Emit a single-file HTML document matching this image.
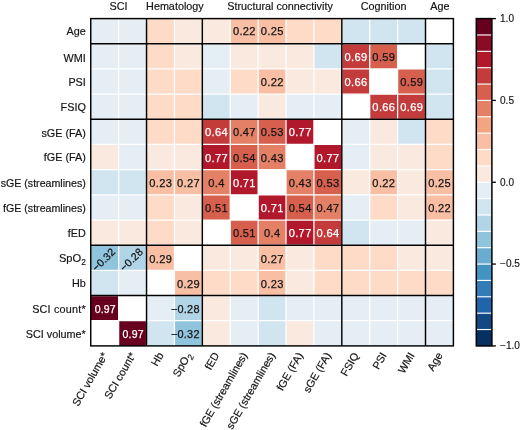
<!DOCTYPE html>
<html lang="en"><head><meta charset="utf-8"><title>Correlation heatmap</title>
<style>html,body{margin:0;padding:0;background:#fff;}body{width:520px;height:430px;overflow:hidden;}svg{display:block;will-change:transform;}</style>
</head><body>
<svg width="520" height="430" viewBox="0 0 520 430" font-family='"Liberation Sans", sans-serif' font-size="10.8" fill="#141414">
<rect x="0" y="0" width="520" height="430" fill="#ffffff"/>
<g>
<rect x="90.75" y="18.60" width="27.90" height="25.18" fill="#e4eef4"/>
<rect x="118.65" y="18.60" width="27.90" height="25.18" fill="#e4eef4"/>
<rect x="146.54" y="18.60" width="27.90" height="25.18" fill="#fddbc7"/>
<rect x="174.44" y="18.60" width="27.90" height="25.18" fill="#fae9df"/>
<rect x="202.33" y="18.60" width="27.90" height="25.18" fill="#fae9df"/>
<rect x="230.23" y="18.60" width="27.90" height="25.18" fill="#f8bfa4"/>
<rect x="258.13" y="18.60" width="27.90" height="25.18" fill="#f8bfa4"/>
<rect x="286.02" y="18.60" width="27.90" height="25.18" fill="#fddbc7"/>
<rect x="313.92" y="18.60" width="27.90" height="25.18" fill="#fddbc7"/>
<rect x="341.82" y="18.60" width="27.90" height="25.18" fill="#d1e5f0"/>
<rect x="369.71" y="18.60" width="27.90" height="25.18" fill="#d1e5f0"/>
<rect x="397.61" y="18.60" width="27.90" height="25.18" fill="#d1e5f0"/>
<rect x="90.75" y="43.78" width="27.90" height="25.18" fill="#e4eef4"/>
<rect x="118.65" y="43.78" width="27.90" height="25.18" fill="#e4eef4"/>
<rect x="146.54" y="43.78" width="27.90" height="25.18" fill="#fddbc7"/>
<rect x="174.44" y="43.78" width="27.90" height="25.18" fill="#fae9df"/>
<rect x="202.33" y="43.78" width="27.90" height="25.18" fill="#e4eef4"/>
<rect x="230.23" y="43.78" width="27.90" height="25.18" fill="#fae9df"/>
<rect x="258.13" y="43.78" width="27.90" height="25.18" fill="#fae9df"/>
<rect x="286.02" y="43.78" width="27.90" height="25.18" fill="#fae9df"/>
<rect x="313.92" y="43.78" width="27.90" height="25.18" fill="#d1e5f0"/>
<rect x="341.82" y="43.78" width="27.90" height="25.18" fill="#c43b3c"/>
<rect x="369.71" y="43.78" width="27.90" height="25.18" fill="#d6604d"/>
<rect x="425.50" y="43.78" width="27.90" height="25.18" fill="#d1e5f0"/>
<rect x="90.75" y="68.95" width="27.90" height="25.18" fill="#e4eef4"/>
<rect x="118.65" y="68.95" width="27.90" height="25.18" fill="#e4eef4"/>
<rect x="146.54" y="68.95" width="27.90" height="25.18" fill="#fddbc7"/>
<rect x="174.44" y="68.95" width="27.90" height="25.18" fill="#fddbc7"/>
<rect x="202.33" y="68.95" width="27.90" height="25.18" fill="#e4eef4"/>
<rect x="230.23" y="68.95" width="27.90" height="25.18" fill="#fddbc7"/>
<rect x="258.13" y="68.95" width="27.90" height="25.18" fill="#f8bfa4"/>
<rect x="286.02" y="68.95" width="27.90" height="25.18" fill="#fae9df"/>
<rect x="313.92" y="68.95" width="27.90" height="25.18" fill="#fae9df"/>
<rect x="341.82" y="68.95" width="27.90" height="25.18" fill="#c43b3c"/>
<rect x="397.61" y="68.95" width="27.90" height="25.18" fill="#d6604d"/>
<rect x="425.50" y="68.95" width="27.90" height="25.18" fill="#d1e5f0"/>
<rect x="90.75" y="94.13" width="27.90" height="25.18" fill="#e4eef4"/>
<rect x="118.65" y="94.13" width="27.90" height="25.18" fill="#e4eef4"/>
<rect x="146.54" y="94.13" width="27.90" height="25.18" fill="#fddbc7"/>
<rect x="174.44" y="94.13" width="27.90" height="25.18" fill="#fddbc7"/>
<rect x="202.33" y="94.13" width="27.90" height="25.18" fill="#d1e5f0"/>
<rect x="230.23" y="94.13" width="27.90" height="25.18" fill="#e4eef4"/>
<rect x="258.13" y="94.13" width="27.90" height="25.18" fill="#fae9df"/>
<rect x="286.02" y="94.13" width="27.90" height="25.18" fill="#e4eef4"/>
<rect x="313.92" y="94.13" width="27.90" height="25.18" fill="#e4eef4"/>
<rect x="369.71" y="94.13" width="27.90" height="25.18" fill="#c43b3c"/>
<rect x="397.61" y="94.13" width="27.90" height="25.18" fill="#c43b3c"/>
<rect x="425.50" y="94.13" width="27.90" height="25.18" fill="#d1e5f0"/>
<rect x="90.75" y="119.31" width="27.90" height="25.18" fill="#e4eef4"/>
<rect x="118.65" y="119.31" width="27.90" height="25.18" fill="#e4eef4"/>
<rect x="146.54" y="119.31" width="27.90" height="25.18" fill="#fddbc7"/>
<rect x="174.44" y="119.31" width="27.90" height="25.18" fill="#fddbc7"/>
<rect x="202.33" y="119.31" width="27.90" height="25.18" fill="#c43b3c"/>
<rect x="230.23" y="119.31" width="27.90" height="25.18" fill="#e48066"/>
<rect x="258.13" y="119.31" width="27.90" height="25.18" fill="#d6604d"/>
<rect x="286.02" y="119.31" width="27.90" height="25.18" fill="#b1182b"/>
<rect x="341.82" y="119.31" width="27.90" height="25.18" fill="#e4eef4"/>
<rect x="369.71" y="119.31" width="27.90" height="25.18" fill="#fae9df"/>
<rect x="397.61" y="119.31" width="27.90" height="25.18" fill="#d1e5f0"/>
<rect x="425.50" y="119.31" width="27.90" height="25.18" fill="#fddbc7"/>
<rect x="90.75" y="144.48" width="27.90" height="25.18" fill="#fae9df"/>
<rect x="118.65" y="144.48" width="27.90" height="25.18" fill="#e4eef4"/>
<rect x="146.54" y="144.48" width="27.90" height="25.18" fill="#fae9df"/>
<rect x="174.44" y="144.48" width="27.90" height="25.18" fill="#fae9df"/>
<rect x="202.33" y="144.48" width="27.90" height="25.18" fill="#b1182b"/>
<rect x="230.23" y="144.48" width="27.90" height="25.18" fill="#d6604d"/>
<rect x="258.13" y="144.48" width="27.90" height="25.18" fill="#e48066"/>
<rect x="313.92" y="144.48" width="27.90" height="25.18" fill="#b1182b"/>
<rect x="341.82" y="144.48" width="27.90" height="25.18" fill="#e4eef4"/>
<rect x="369.71" y="144.48" width="27.90" height="25.18" fill="#fae9df"/>
<rect x="397.61" y="144.48" width="27.90" height="25.18" fill="#fae9df"/>
<rect x="425.50" y="144.48" width="27.90" height="25.18" fill="#fddbc7"/>
<rect x="90.75" y="169.66" width="27.90" height="25.18" fill="#d1e5f0"/>
<rect x="118.65" y="169.66" width="27.90" height="25.18" fill="#d1e5f0"/>
<rect x="146.54" y="169.66" width="27.90" height="25.18" fill="#f8bfa4"/>
<rect x="174.44" y="169.66" width="27.90" height="25.18" fill="#f8bfa4"/>
<rect x="202.33" y="169.66" width="27.90" height="25.18" fill="#e48066"/>
<rect x="230.23" y="169.66" width="27.90" height="25.18" fill="#b1182b"/>
<rect x="286.02" y="169.66" width="27.90" height="25.18" fill="#e48066"/>
<rect x="313.92" y="169.66" width="27.90" height="25.18" fill="#d6604d"/>
<rect x="341.82" y="169.66" width="27.90" height="25.18" fill="#fae9df"/>
<rect x="369.71" y="169.66" width="27.90" height="25.18" fill="#f8bfa4"/>
<rect x="397.61" y="169.66" width="27.90" height="25.18" fill="#fae9df"/>
<rect x="425.50" y="169.66" width="27.90" height="25.18" fill="#f8bfa4"/>
<rect x="90.75" y="194.84" width="27.90" height="25.18" fill="#e4eef4"/>
<rect x="118.65" y="194.84" width="27.90" height="25.18" fill="#e4eef4"/>
<rect x="146.54" y="194.84" width="27.90" height="25.18" fill="#fddbc7"/>
<rect x="174.44" y="194.84" width="27.90" height="25.18" fill="#fae9df"/>
<rect x="202.33" y="194.84" width="27.90" height="25.18" fill="#d6604d"/>
<rect x="258.13" y="194.84" width="27.90" height="25.18" fill="#b1182b"/>
<rect x="286.02" y="194.84" width="27.90" height="25.18" fill="#d6604d"/>
<rect x="313.92" y="194.84" width="27.90" height="25.18" fill="#e48066"/>
<rect x="341.82" y="194.84" width="27.90" height="25.18" fill="#e4eef4"/>
<rect x="369.71" y="194.84" width="27.90" height="25.18" fill="#fddbc7"/>
<rect x="397.61" y="194.84" width="27.90" height="25.18" fill="#fae9df"/>
<rect x="425.50" y="194.84" width="27.90" height="25.18" fill="#f8bfa4"/>
<rect x="90.75" y="220.02" width="27.90" height="25.18" fill="#fae9df"/>
<rect x="118.65" y="220.02" width="27.90" height="25.18" fill="#fae9df"/>
<rect x="146.54" y="220.02" width="27.90" height="25.18" fill="#fddbc7"/>
<rect x="174.44" y="220.02" width="27.90" height="25.18" fill="#fae9df"/>
<rect x="230.23" y="220.02" width="27.90" height="25.18" fill="#d6604d"/>
<rect x="258.13" y="220.02" width="27.90" height="25.18" fill="#e48066"/>
<rect x="286.02" y="220.02" width="27.90" height="25.18" fill="#b1182b"/>
<rect x="313.92" y="220.02" width="27.90" height="25.18" fill="#c43b3c"/>
<rect x="341.82" y="220.02" width="27.90" height="25.18" fill="#d1e5f0"/>
<rect x="369.71" y="220.02" width="27.90" height="25.18" fill="#e4eef4"/>
<rect x="397.61" y="220.02" width="27.90" height="25.18" fill="#e4eef4"/>
<rect x="425.50" y="220.02" width="27.90" height="25.18" fill="#fae9df"/>
<rect x="90.75" y="245.19" width="27.90" height="25.18" fill="#90c4dd"/>
<rect x="118.65" y="245.19" width="27.90" height="25.18" fill="#b1d5e7"/>
<rect x="146.54" y="245.19" width="27.90" height="25.18" fill="#f8bfa4"/>
<rect x="202.33" y="245.19" width="27.90" height="25.18" fill="#fae9df"/>
<rect x="230.23" y="245.19" width="27.90" height="25.18" fill="#fae9df"/>
<rect x="258.13" y="245.19" width="27.90" height="25.18" fill="#f8bfa4"/>
<rect x="286.02" y="245.19" width="27.90" height="25.18" fill="#fae9df"/>
<rect x="313.92" y="245.19" width="27.90" height="25.18" fill="#fddbc7"/>
<rect x="341.82" y="245.19" width="27.90" height="25.18" fill="#fddbc7"/>
<rect x="369.71" y="245.19" width="27.90" height="25.18" fill="#fddbc7"/>
<rect x="397.61" y="245.19" width="27.90" height="25.18" fill="#fae9df"/>
<rect x="425.50" y="245.19" width="27.90" height="25.18" fill="#fae9df"/>
<rect x="90.75" y="270.37" width="27.90" height="25.18" fill="#d1e5f0"/>
<rect x="118.65" y="270.37" width="27.90" height="25.18" fill="#e4eef4"/>
<rect x="174.44" y="270.37" width="27.90" height="25.18" fill="#f8bfa4"/>
<rect x="202.33" y="270.37" width="27.90" height="25.18" fill="#fddbc7"/>
<rect x="230.23" y="270.37" width="27.90" height="25.18" fill="#fddbc7"/>
<rect x="258.13" y="270.37" width="27.90" height="25.18" fill="#f8bfa4"/>
<rect x="286.02" y="270.37" width="27.90" height="25.18" fill="#fae9df"/>
<rect x="313.92" y="270.37" width="27.90" height="25.18" fill="#fddbc7"/>
<rect x="341.82" y="270.37" width="27.90" height="25.18" fill="#fddbc7"/>
<rect x="369.71" y="270.37" width="27.90" height="25.18" fill="#fddbc7"/>
<rect x="397.61" y="270.37" width="27.90" height="25.18" fill="#fddbc7"/>
<rect x="425.50" y="270.37" width="27.90" height="25.18" fill="#fddbc7"/>
<rect x="90.75" y="295.55" width="27.90" height="25.18" fill="#67001f"/>
<rect x="146.54" y="295.55" width="27.90" height="25.18" fill="#e4eef4"/>
<rect x="174.44" y="295.55" width="27.90" height="25.18" fill="#b1d5e7"/>
<rect x="202.33" y="295.55" width="27.90" height="25.18" fill="#fae9df"/>
<rect x="230.23" y="295.55" width="27.90" height="25.18" fill="#e4eef4"/>
<rect x="258.13" y="295.55" width="27.90" height="25.18" fill="#d1e5f0"/>
<rect x="286.02" y="295.55" width="27.90" height="25.18" fill="#e4eef4"/>
<rect x="313.92" y="295.55" width="27.90" height="25.18" fill="#e4eef4"/>
<rect x="341.82" y="295.55" width="27.90" height="25.18" fill="#e4eef4"/>
<rect x="369.71" y="295.55" width="27.90" height="25.18" fill="#e4eef4"/>
<rect x="397.61" y="295.55" width="27.90" height="25.18" fill="#e4eef4"/>
<rect x="425.50" y="295.55" width="27.90" height="25.18" fill="#e4eef4"/>
<rect x="118.65" y="320.72" width="27.90" height="25.18" fill="#67001f"/>
<rect x="146.54" y="320.72" width="27.90" height="25.18" fill="#d1e5f0"/>
<rect x="174.44" y="320.72" width="27.90" height="25.18" fill="#90c4dd"/>
<rect x="202.33" y="320.72" width="27.90" height="25.18" fill="#fae9df"/>
<rect x="230.23" y="320.72" width="27.90" height="25.18" fill="#e4eef4"/>
<rect x="258.13" y="320.72" width="27.90" height="25.18" fill="#d1e5f0"/>
<rect x="286.02" y="320.72" width="27.90" height="25.18" fill="#fae9df"/>
<rect x="313.92" y="320.72" width="27.90" height="25.18" fill="#e4eef4"/>
<rect x="341.82" y="320.72" width="27.90" height="25.18" fill="#e4eef4"/>
<rect x="369.71" y="320.72" width="27.90" height="25.18" fill="#e4eef4"/>
<rect x="397.61" y="320.72" width="27.90" height="25.18" fill="#e4eef4"/>
<rect x="425.50" y="320.72" width="27.90" height="25.18" fill="#e4eef4"/>
</g>
<g stroke="#ffffff" stroke-width="1.25">
<line x1="118.65" y1="18.6" x2="118.65" y2="345.9"/>
<line x1="90.75" y1="43.78" x2="453.4" y2="43.78"/>
<line x1="146.54" y1="18.6" x2="146.54" y2="345.9"/>
<line x1="90.75" y1="68.95" x2="453.4" y2="68.95"/>
<line x1="174.44" y1="18.6" x2="174.44" y2="345.9"/>
<line x1="90.75" y1="94.13" x2="453.4" y2="94.13"/>
<line x1="202.33" y1="18.6" x2="202.33" y2="345.9"/>
<line x1="90.75" y1="119.31" x2="453.4" y2="119.31"/>
<line x1="230.23" y1="18.6" x2="230.23" y2="345.9"/>
<line x1="90.75" y1="144.48" x2="453.4" y2="144.48"/>
<line x1="258.13" y1="18.6" x2="258.13" y2="345.9"/>
<line x1="90.75" y1="169.66" x2="453.4" y2="169.66"/>
<line x1="286.02" y1="18.6" x2="286.02" y2="345.9"/>
<line x1="90.75" y1="194.84" x2="453.4" y2="194.84"/>
<line x1="313.92" y1="18.6" x2="313.92" y2="345.9"/>
<line x1="90.75" y1="220.02" x2="453.4" y2="220.02"/>
<line x1="341.82" y1="18.6" x2="341.82" y2="345.9"/>
<line x1="90.75" y1="245.19" x2="453.4" y2="245.19"/>
<line x1="369.71" y1="18.6" x2="369.71" y2="345.9"/>
<line x1="90.75" y1="270.37" x2="453.4" y2="270.37"/>
<line x1="397.61" y1="18.6" x2="397.61" y2="345.9"/>
<line x1="90.75" y1="295.55" x2="453.4" y2="295.55"/>
<line x1="425.50" y1="18.6" x2="425.50" y2="345.9"/>
<line x1="90.75" y1="320.72" x2="453.4" y2="320.72"/>
</g>
<g text-anchor="middle" letter-spacing="0.35" font-size="11.1" stroke-width="0.25">
<text x="244.38" y="35.29" fill="#141414" stroke="#141414">0.22</text>
<text x="272.27" y="35.29" fill="#141414" stroke="#141414">0.25</text>
<text x="355.96" y="60.55" fill="#ffffff" stroke="#ffffff">0.69</text>
<text x="383.86" y="60.55" fill="#141414" stroke="#141414">0.59</text>
<text x="272.27" y="85.80" fill="#141414" stroke="#141414">0.22</text>
<text x="355.96" y="85.80" fill="#ffffff" stroke="#ffffff">0.66</text>
<text x="411.76" y="85.80" fill="#141414" stroke="#141414">0.59</text>
<text x="383.86" y="111.06" fill="#ffffff" stroke="#ffffff">0.66</text>
<text x="411.76" y="111.06" fill="#ffffff" stroke="#ffffff">0.69</text>
<text x="216.48" y="136.32" fill="#ffffff" stroke="#ffffff">0.64</text>
<text x="244.38" y="136.32" fill="#141414" stroke="#141414">0.47</text>
<text x="272.27" y="136.32" fill="#141414" stroke="#141414">0.53</text>
<text x="300.17" y="136.32" fill="#ffffff" stroke="#ffffff">0.77</text>
<text x="216.48" y="161.57" fill="#ffffff" stroke="#ffffff">0.77</text>
<text x="244.38" y="161.57" fill="#141414" stroke="#141414">0.54</text>
<text x="272.27" y="161.57" fill="#141414" stroke="#141414">0.43</text>
<text x="328.07" y="161.57" fill="#ffffff" stroke="#ffffff">0.77</text>
<text x="160.69" y="186.83" fill="#141414" stroke="#141414">0.23</text>
<text x="188.59" y="186.83" fill="#141414" stroke="#141414">0.27</text>
<text x="216.48" y="186.83" fill="#141414" stroke="#141414">0.4</text>
<text x="244.38" y="186.83" fill="#ffffff" stroke="#ffffff">0.71</text>
<text x="300.17" y="186.83" fill="#141414" stroke="#141414">0.43</text>
<text x="328.07" y="186.83" fill="#141414" stroke="#141414">0.53</text>
<text x="383.86" y="186.83" fill="#141414" stroke="#141414">0.22</text>
<text x="439.65" y="186.83" fill="#141414" stroke="#141414">0.25</text>
<text x="216.48" y="212.09" fill="#141414" stroke="#141414">0.51</text>
<text x="272.27" y="212.09" fill="#ffffff" stroke="#ffffff">0.71</text>
<text x="300.17" y="212.09" fill="#141414" stroke="#141414">0.54</text>
<text x="328.07" y="212.09" fill="#141414" stroke="#141414">0.47</text>
<text x="439.65" y="212.09" fill="#141414" stroke="#141414">0.22</text>
<text x="244.38" y="237.34" fill="#141414" stroke="#141414">0.51</text>
<text x="272.27" y="237.34" fill="#141414" stroke="#141414">0.4</text>
<text x="300.17" y="237.34" fill="#ffffff" stroke="#ffffff">0.77</text>
<text x="328.07" y="237.34" fill="#ffffff" stroke="#ffffff">0.64</text>
<text x="104.40" y="263.20" font-size="10.6" letter-spacing="0.15" fill="#141414" stroke="#141414" transform="translate(-1.6 0.3) rotate(-45 104.70 258.50)">−0.32</text>
<text x="132.29" y="263.20" font-size="10.6" letter-spacing="0.15" fill="#141414" stroke="#141414" transform="translate(-1.6 0.3) rotate(-45 132.59 258.50)">−0.28</text>
<text x="160.69" y="262.60" fill="#141414" stroke="#141414">0.29</text>
<text x="272.27" y="262.60" fill="#141414" stroke="#141414">0.27</text>
<text x="188.59" y="287.86" fill="#141414" stroke="#141414">0.29</text>
<text x="272.27" y="287.86" fill="#141414" stroke="#141414">0.23</text>
<text x="105.30" y="312.51" font-size="10.5" letter-spacing="0.2" fill="#ffffff" stroke="#ffffff">0.97</text>
<text x="199.73" y="313.11" font-size="10.9" letter-spacing="0.25" fill="#141414" stroke="#141414" text-anchor="end">−0.28</text>
<text x="133.19" y="337.77" font-size="10.5" letter-spacing="0.2" fill="#ffffff" stroke="#ffffff">0.97</text>
<text x="199.73" y="338.37" font-size="10.9" letter-spacing="0.25" fill="#141414" stroke="#141414" text-anchor="end">−0.32</text>
</g>
<g stroke="#000000" stroke-width="1.45" fill="none">
<rect x="90.75" y="18.6" width="362.65" height="327.30"/>
<line x1="146.54" y1="18.6" x2="146.54" y2="345.9"/>
<line x1="202.33" y1="18.6" x2="202.33" y2="345.9"/>
<line x1="341.82" y1="18.6" x2="341.82" y2="345.9"/>
<line x1="425.50" y1="18.6" x2="425.50" y2="345.9"/>
<line x1="90.75" y1="43.78" x2="453.4" y2="43.78"/>
<line x1="90.75" y1="119.31" x2="453.4" y2="119.31"/>
<line x1="90.75" y1="245.19" x2="453.4" y2="245.19"/>
<line x1="90.75" y1="295.55" x2="453.4" y2="295.55"/>
</g>
<g text-anchor="end" stroke="#141414" stroke-width="0.18">
<text x="85.8" y="35.19">Age</text>
<text x="85.8" y="61.87">WMI</text>
<text x="85.8" y="85.84">PSI</text>
<text x="85.8" y="110.62">FSIQ</text>
<text x="85.8" y="136.60">sGE (FA)</text>
<text x="85.8" y="161.37">fGE (FA)</text>
<text x="85.8" y="186.55" font-size="10.65">sGE (streamlines)</text>
<text x="85.8" y="211.73" font-size="10.65">fGE (streamlines)</text>
<text x="85.8" y="236.90">fED</text>
<text x="85.8" y="261.88" font-size="11.1">SpO<tspan dy="2.8" font-size="8.3">2</tspan></text>
<text x="85.8" y="287.06">Hb</text>
<text x="85.8" y="313.03" letter-spacing="0.2">SCI count*</text>
<text x="85.8" y="338.21">SCI volume*</text>
</g>
<g text-anchor="middle" stroke="#141414" stroke-width="0.18">
<text x="118.6" y="10.4">SCI</text>
<text x="174.9" y="10.4">Hematology</text>
<text x="280.0" y="10.4">Structural connectivity</text>
<text x="383.6" y="10.4">Cognition</text>
<text x="439.9" y="10.4">Age</text>
</g>
<g text-anchor="end" stroke="#141414" stroke-width="0.18">
<text x="102.10" y="351.60" transform="rotate(-60 102.10 351.60)" dy="7">SCI volume*</text>
<text x="129.99" y="351.60" transform="rotate(-60 129.99 351.60)" dy="7">SCI count*</text>
<text x="157.89" y="351.60" transform="rotate(-60 157.89 351.60)" dy="7">Hb</text>
<text x="185.79" y="351.60" transform="rotate(-60 185.79 351.60)" dy="7">SpO<tspan dy="2.8" font-size="8.3">2</tspan></text>
<text x="213.68" y="351.60" transform="rotate(-60 213.68 351.60)" dy="7">fED</text>
<text x="241.58" y="351.60" transform="rotate(-60 241.58 351.60)" dy="7">fGE (streamlines)</text>
<text x="269.47" y="351.60" transform="rotate(-60 269.47 351.60)" dy="7">sGE (streamlines)</text>
<text x="297.37" y="351.60" transform="rotate(-60 297.37 351.60)" dy="7">fGE (FA)</text>
<text x="325.27" y="351.60" transform="rotate(-60 325.27 351.60)" dy="7">sGE (FA)</text>
<text x="353.16" y="351.60" transform="rotate(-60 353.16 351.60)" dy="7">FSIQ</text>
<text x="381.06" y="351.60" transform="rotate(-60 381.06 351.60)" dy="7">PSI</text>
<text x="408.96" y="351.60" transform="rotate(-60 408.96 351.60)" dy="7">WMI</text>
<text x="436.85" y="351.60" transform="rotate(-60 436.85 351.60)" dy="7">Age</text>
</g>
<g>
<rect x="476.3" y="329.53" width="15.60" height="16.66" fill="#053061"/>
<rect x="476.3" y="313.17" width="15.60" height="16.66" fill="#124984"/>
<rect x="476.3" y="296.80" width="15.60" height="16.66" fill="#2065ab"/>
<rect x="476.3" y="280.44" width="15.60" height="16.66" fill="#327cb7"/>
<rect x="476.3" y="264.07" width="15.60" height="16.66" fill="#4393c3"/>
<rect x="476.3" y="247.71" width="15.60" height="16.66" fill="#6bacd1"/>
<rect x="476.3" y="231.34" width="15.60" height="16.66" fill="#90c4dd"/>
<rect x="476.3" y="214.98" width="15.60" height="16.66" fill="#b1d5e7"/>
<rect x="476.3" y="198.61" width="15.60" height="16.66" fill="#d1e5f0"/>
<rect x="476.3" y="182.25" width="15.60" height="16.66" fill="#e4eef4"/>
<rect x="476.3" y="165.88" width="15.60" height="16.66" fill="#fae9df"/>
<rect x="476.3" y="149.52" width="15.60" height="16.66" fill="#fddbc7"/>
<rect x="476.3" y="133.16" width="15.60" height="16.66" fill="#f8bfa4"/>
<rect x="476.3" y="116.79" width="15.60" height="16.66" fill="#f3a481"/>
<rect x="476.3" y="100.43" width="15.60" height="16.66" fill="#e48066"/>
<rect x="476.3" y="84.06" width="15.60" height="16.66" fill="#d6604d"/>
<rect x="476.3" y="67.69" width="15.60" height="16.66" fill="#c43b3c"/>
<rect x="476.3" y="51.33" width="15.60" height="16.66" fill="#b1182b"/>
<rect x="476.3" y="34.97" width="15.60" height="16.66" fill="#8a0b25"/>
<rect x="476.3" y="18.60" width="15.60" height="16.66" fill="#67001f"/>
</g>
<g stroke="#ffffff" stroke-width="1.15">
<line x1="476.3" y1="329.53" x2="491.9" y2="329.53"/>
<line x1="476.3" y1="313.17" x2="491.9" y2="313.17"/>
<line x1="476.3" y1="296.80" x2="491.9" y2="296.80"/>
<line x1="476.3" y1="280.44" x2="491.9" y2="280.44"/>
<line x1="476.3" y1="264.07" x2="491.9" y2="264.07"/>
<line x1="476.3" y1="247.71" x2="491.9" y2="247.71"/>
<line x1="476.3" y1="231.34" x2="491.9" y2="231.34"/>
<line x1="476.3" y1="214.98" x2="491.9" y2="214.98"/>
<line x1="476.3" y1="198.61" x2="491.9" y2="198.61"/>
<line x1="476.3" y1="182.25" x2="491.9" y2="182.25"/>
<line x1="476.3" y1="165.88" x2="491.9" y2="165.88"/>
<line x1="476.3" y1="149.52" x2="491.9" y2="149.52"/>
<line x1="476.3" y1="133.16" x2="491.9" y2="133.16"/>
<line x1="476.3" y1="116.79" x2="491.9" y2="116.79"/>
<line x1="476.3" y1="100.43" x2="491.9" y2="100.43"/>
<line x1="476.3" y1="84.06" x2="491.9" y2="84.06"/>
<line x1="476.3" y1="67.69" x2="491.9" y2="67.69"/>
<line x1="476.3" y1="51.33" x2="491.9" y2="51.33"/>
<line x1="476.3" y1="34.97" x2="491.9" y2="34.97"/>
</g>
<rect x="476.3" y="18.6" width="15.60" height="327.30" fill="none" stroke="#000" stroke-width="1.5"/>
<g stroke="#000" stroke-width="1.3">
<line x1="491.9" y1="18.60" x2="495.90" y2="18.60"/>
<line x1="491.9" y1="100.42" x2="495.90" y2="100.42"/>
<line x1="491.9" y1="182.25" x2="495.90" y2="182.25"/>
<line x1="491.9" y1="264.07" x2="495.90" y2="264.07"/>
<line x1="491.9" y1="345.90" x2="495.90" y2="345.90"/>
</g>
<g font-size="10.1" stroke="#141414" stroke-width="0.15">
<text x="500.0" y="22.00">1.0</text>
<text x="500.0" y="103.82">0.5</text>
<text x="500.0" y="185.65">0.0</text>
<text x="500.0" y="267.47">−0.5</text>
<text x="500.0" y="349.30">−1.0</text>
</g>
</svg>
</body></html>
